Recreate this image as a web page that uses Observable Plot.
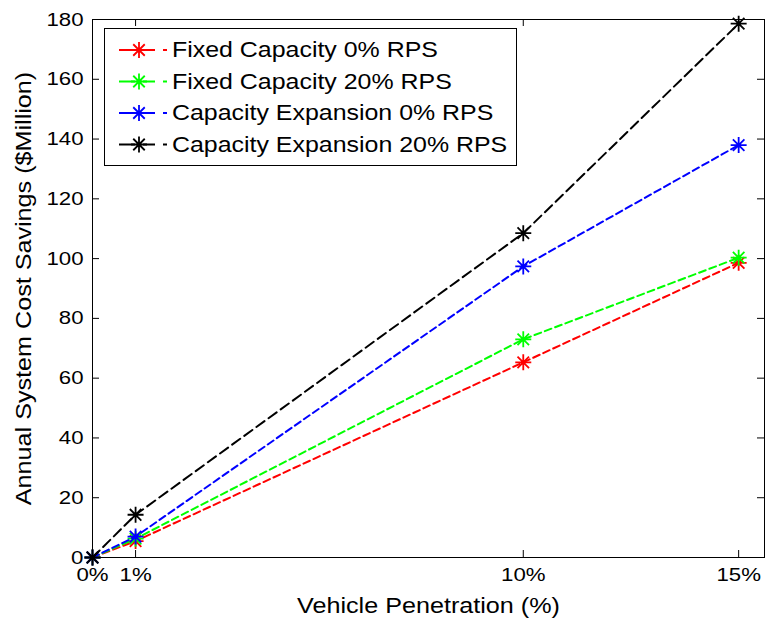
<!DOCTYPE html>
<html><head><meta charset="utf-8">
<script src="https://cdn.jsdelivr.net/npm/d3@7"></script>
<script src="https://cdn.jsdelivr.net/npm/@observablehq/plot@0.6"></script>
<style>body{margin:0;background:#fff} #chart{width:767px;height:619px}</style>
</head><body><div id="chart"></div>
<script>
// ---- data ----
const xValues = [0, 1, 10, 15];
const xTickLabels = ["0%", "1%", "10%", "15%"];
const yTicks = [0, 20, 40, 60, 80, 100, 120, 140, 160, 180];
const seriesNames = ["Fixed Capacity 0% RPS", "Fixed Capacity 20% RPS", "Capacity Expansion 0% RPS", "Capacity Expansion 20% RPS"];
const seriesColors = ["#ff0000", "#00ff00", "#0000ff", "#000000"];
const seriesDash = ["7,4", "7,4", "7,4", "10,5"];
const fixedCap0 = [0, 5.5, 65.3, 98.6];
const fixedCap20 = [0, 6.3, 73.0, 100.3];
const capExp0 = [0, 7.0, 97.4, 138.0];
const capExp20 = [0, 14.3, 108.5, 178.6];
const allSeries = [fixedCap0, fixedCap20, capExp0, capExp20];

const rows = seriesNames.flatMap((name, i) => xValues.map((x, j) => ({series: name, x, y: allSeries[i][j]})));

// MATLAB-like 8-armed asterisk
const asterisk = {
  draw(ctx, size) {
    const r = Math.sqrt(size / Math.PI), d = r * 0.72;
    ctx.moveTo(-r, 0); ctx.lineTo(r, 0);
    ctx.moveTo(0, -r); ctx.lineTo(0, r);
    ctx.moveTo(-d, -d); ctx.lineTo(d, d);
    ctx.moveTo(-d, d); ctx.lineTo(d, -d);
  }
};

const W = 767, H = 619, mL = 92, mR = 3, mT = 19, mB = 62;
const fw = W - mL - mR, fh = H - mT - mB, tk = 7;

const marks = [];
seriesNames.forEach((name, i) => {
  const d = rows.filter(r => r.series === name);
  marks.push(Plot.line(d, {x: "x", y: "y", stroke: seriesColors[i], strokeWidth: 2, strokeDasharray: seriesDash[i]}));
  marks.push(Plot.dot(d, {x: "x", y: "y", stroke: seriesColors[i], symbol: asterisk, r: 8, strokeWidth: 1.8}));
});

const plot = Plot.plot({
  width: W, height: H,
  marginLeft: mL, marginRight: mR, marginTop: mT, marginBottom: mB,
  style: {fontFamily: "'Liberation Sans', Arial, sans-serif", fontSize: "19px", color: "#000", background: "#fff"},
  x: {domain: [0, 15.6]},
  y: {domain: [0, 180]},
  marks: [
    Plot.ruleX(xValues, {stroke: "#000", insetTop: fh - tk}),
    Plot.ruleX(xValues, {stroke: "#000", insetBottom: fh - tk}),
    Plot.ruleY(yTicks, {stroke: "#000", insetRight: fw - tk}),
    Plot.ruleY(yTicks, {stroke: "#000", insetLeft: fw - tk}),
    Plot.axisX(xValues, {tickSize: 0, tickPadding: 10, tickFormat: d => xTickLabels[xValues.indexOf(d)], fontSize: 19, label: null}),
    Plot.axisX({ticks: [], tickSize: 0, label: "Vehicle Penetration (%)", labelAnchor: "center", labelArrow: "none", labelOffset: 55, fontSize: 21.5}),
    Plot.axisY(yTicks, {tickSize: 0, tickPadding: 9, tickFormat: d => String(d), fontSize: 19, label: null}),
    Plot.axisY({ticks: [], tickSize: 0, label: "Annual System Cost Savings ($Million)", labelAnchor: "center", labelArrow: "none", labelOffset: 77, fontSize: 21.5}),
    ...marks,
    Plot.frame({stroke: "#000", strokeWidth: 1})
  ]
});
document.getElementById("chart").appendChild(plot);

// legend drawn into the plot's svg
const svg = d3.select(plot);
const lg = svg.append("g").attr("font-family", "'Liberation Sans', Arial, sans-serif").attr("font-size", 21.3).attr("text-anchor", "start");
lg.append("rect").attr("x", 104.5).attr("y", 28.5).attr("width", 412).attr("height", 137)
  .attr("fill", "#fff").attr("stroke", "#000").attr("stroke-width", 1);
const sym = d3.symbol().type(asterisk).size(Math.PI * 64);
seriesNames.forEach((name, i) => {
  const cy = 50 + i * 31.5;
  lg.append("line").attr("x1", 119).attr("x2", 167).attr("y1", cy).attr("y2", cy)
    .attr("stroke", seriesColors[i]).attr("stroke-width", 2).attr("stroke-dasharray", "16,8,12,8");
  lg.append("path").attr("d", sym()).attr("transform", `translate(139,${cy})`)
    .attr("stroke", seriesColors[i]).attr("stroke-width", 1.8).attr("fill", "none");
  lg.append("text").attr("x", 172).attr("y", cy).attr("dy", "0.35em").attr("text-anchor", "start").attr("fill", "#000").text(name);
});

// strip any axis-label arrows, then widen text horizontally like the original rendering
plot.querySelectorAll("text").forEach(t => {
  if (/[↑→←↓]/.test(t.textContent)) {
    t.textContent = t.textContent.replace(/\s*[↑→←↓]\s*/g, "").trim();
  }
  const len = t.getComputedTextLength();
  if (len > 0) { t.setAttribute("textLength", (len * 1.17).toFixed(1)); t.setAttribute("lengthAdjust", "spacingAndGlyphs"); }
});
</script>
</body></html>
